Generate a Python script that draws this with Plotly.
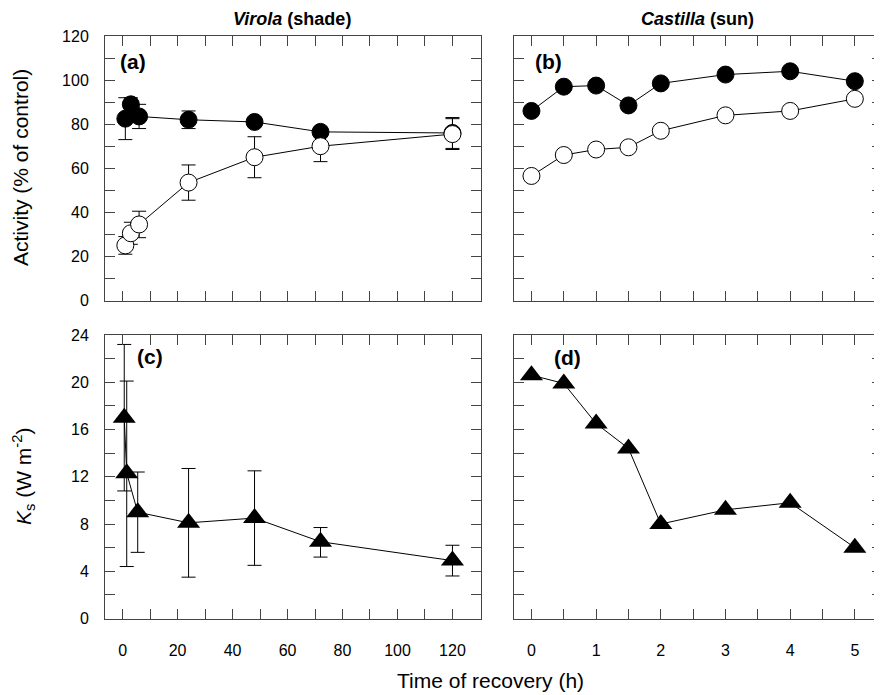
import plotly.graph_objects as go

# The page has an 8px body margin, so the figure is drawn 8px in from the top-left.
OFF = 8
W, H = 882 - OFF, 695 - OFF

# ---------------- data ----------------
# Panel (a) Virola (shade) - activity
a_x_filled = [1, 3, 6, 24, 48, 72, 120]
a_y_filled = [82.5, 89, 83.5, 82, 81, 76.5, 76]
a_err_filled = [9.5, 3, 5.5, 4, 2, 2, 7]
a_x_open = [1, 3, 6, 24, 48, 72, 120]
a_y_open = [25, 30.5, 34.5, 53.5, 65, 70, 75.5]
a_err_open = [4, 5, 6, 8, 9.3, 7, 7]

# Panel (b) Castilla (sun) - activity
b_x = [0, 0.5, 1, 1.5, 2, 3, 4, 5]
b_y_filled = [86, 97, 97.5, 88.5, 98.5, 102.5, 104, 99.5]
b_y_open = [56.5, 66, 68.5, 69.5, 77, 84, 86, 91.5]

# Panel (c) Virola (shade) - Ks
c_x = [0.6, 1.5, 5.5, 24, 48, 72, 120]
c_y = [17.0, 12.3, 9.0, 8.1, 8.5, 6.5, 4.9]
c_err_plus = [6.2, 7.8, 3.4, 4.6, 4.0, 1.2, 1.3]
c_err_minus = [6.2, 7.9, 3.4, 4.6, 4.0, 1.3, 1.3]

# Panel (d) Castilla (sun) - Ks
d_x = [0, 0.5, 1, 1.5, 2, 3, 4, 5]
d_y = [20.6, 19.9, 16.5, 14.4, 8.0, 9.2, 9.8, 6.0]

# tick values / labels
left_x_ticks = [0, 20, 40, 60, 80, 100, 120]
left_x_labels = ["0", "20", "40", "60", "80", "100", "120"]
left_x_minor = [10, 30, 50, 70, 90, 110]
right_x_ticks = [0, 1, 2, 3, 4, 5]
right_x_labels = ["0", "1", "2", "3", "4", "5"]
right_x_minor = [0.5, 1.5, 2.5, 3.5, 4.5]
top_y_ticks = [0, 20, 40, 60, 80, 100, 120]
top_y_labels = ["0", "20", "40", "60", "80", "100", "120"]
top_y_minor = [10, 30, 50, 70, 90, 110]
bot_y_ticks = [0, 4, 8, 12, 16, 20, 24]
bot_y_labels = ["0", "4", "8", "12", "16", "20", "24"]
bot_y_minor = [2, 6, 10, 14, 18, 22]

# ---------------- geometry (screen pixels -> paper) ----------------
def px(x):
    return (x - OFF) / W

def py(y):
    return 1 - (y - OFF) / H

LX = [px(105), px(480.5)]
RX = [px(514), 1.0]
TY = [py(300.5), py(36)]
BY = [py(618.5), py(335)]

FONT = "Liberation Sans Narrow, Arial Narrow, Liberation Sans, Arial, sans-serif"
LINE_C = "#444444"

fig = go.Figure()

circle_line = dict(color="black", width=1)
err_style = dict(color="black", thickness=1, width=7)

# (a) filled then open
fig.add_trace(go.Scatter(
    x=a_x_filled, y=a_y_filled, mode="lines+markers",
    line=dict(color="black", width=1),
    marker=dict(symbol="circle", size=17, color="black", line=circle_line),
    error_y=dict(type="data", array=a_err_filled, visible=True, **err_style),
    xaxis="x", yaxis="y", showlegend=False))
fig.add_trace(go.Scatter(
    x=a_x_open, y=a_y_open, mode="lines+markers",
    line=dict(color="black", width=1),
    marker=dict(symbol="circle", size=17, color="white", line=circle_line),
    error_y=dict(type="data", array=a_err_open, visible=True, **err_style),
    xaxis="x", yaxis="y", showlegend=False))

# (b)
fig.add_trace(go.Scatter(
    x=b_x, y=b_y_filled, mode="lines+markers",
    line=dict(color="black", width=1),
    marker=dict(symbol="circle", size=17, color="black", line=circle_line),
    xaxis="x2", yaxis="y2", showlegend=False))
fig.add_trace(go.Scatter(
    x=b_x, y=b_y_open, mode="lines+markers",
    line=dict(color="black", width=1),
    marker=dict(symbol="circle", size=17, color="white", line=circle_line),
    xaxis="x2", yaxis="y2", showlegend=False))

# (c)
fig.add_trace(go.Scatter(
    x=c_x, y=c_y, mode="lines+markers",
    line=dict(color="black", width=1),
    marker=dict(symbol="triangle-up", size=20, color="black", line=dict(width=0)),
    error_y=dict(type="data", symmetric=False, array=c_err_plus,
                 arrayminus=c_err_minus, visible=True, **err_style),
    xaxis="x3", yaxis="y3", showlegend=False))

# (d)
fig.add_trace(go.Scatter(
    x=d_x, y=d_y, mode="lines+markers",
    line=dict(color="black", width=1),
    marker=dict(symbol="triangle-up", size=20, color="black", line=dict(width=0)),
    xaxis="x4", yaxis="y4", showlegend=False))


def axis(domain, rng, tickvals, ticktext, minor_vals, anchor, show_labels, standoff):
    d = dict(
        domain=domain, range=rng, anchor=anchor,
        tickmode="array", tickvals=tickvals,
        showticklabels=show_labels,
        ticks="inside", ticklen=10, tickwidth=1, tickcolor=LINE_C,
        minor=dict(tickmode="array", tickvals=minor_vals, ticks="inside",
                   ticklen=10, tickwidth=1, tickcolor=LINE_C, showgrid=False),
        showline=True, linecolor=LINE_C, linewidth=1, mirror="allticks",
        showgrid=False, zeroline=False,
        tickfont=dict(family=FONT, size=16, color="black"),
        ticklabelstandoff=standoff,
    )
    if show_labels:
        d["ticktext"] = ticktext
    return d

LXR = [-6.4, 130.2]
RXR = [-0.27, 5.42]
TYR = [0, 120]
BYR = [0, 24]

XS, YS = 17, 12
fig.update_layout(
    width=W, height=H,
    margin=dict(l=0, r=0, t=0, b=0, pad=0, autoexpand=False),
    paper_bgcolor="white", plot_bgcolor="white",
    xaxis=axis(LX, LXR, left_x_ticks, left_x_labels, left_x_minor, "y", False, XS),
    yaxis=axis(TY, TYR, top_y_ticks, top_y_labels, top_y_minor, "x", True, YS),
    xaxis2=axis(RX, RXR, right_x_ticks, right_x_labels, right_x_minor, "y2", False, XS),
    yaxis2=axis(TY, TYR, top_y_ticks, top_y_labels, top_y_minor, "x2", False, YS),
    xaxis3=axis(LX, LXR, left_x_ticks, left_x_labels, left_x_minor, "y3", True, XS),
    yaxis3=axis(BY, BYR, bot_y_ticks, bot_y_labels, bot_y_minor, "x3", True, YS),
    xaxis4=axis(RX, RXR, right_x_ticks, right_x_labels, right_x_minor, "y4", True, XS),
    yaxis4=axis(BY, BYR, bot_y_ticks, bot_y_labels, bot_y_minor, "x4", False, YS),
)

title_font = dict(family=FONT, size=18, color="black")
ann_font = dict(family=FONT, size=21, color="black")
label_font = dict(family="Liberation Sans, Arial, sans-serif", size=21, color="black")
annotations = [
    dict(text="<b><i>Virola</i> (shade)</b>", x=px(292), y=py(19), font=title_font),
    dict(text="<b><i>Castilla</i> (sun)</b>", x=px(697), y=py(19), font=title_font),
    dict(text="Activity (% of control)", x=px(20), y=py(168), textangle=-90, font=ann_font),
    dict(text="<i>K</i><sub>s</sub> (W m<sup>-2</sup>)", x=px(23), y=py(477), textangle=-90, font=ann_font),
    dict(text="Time of recovery (h)", x=px(490), y=py(680), font=ann_font),
    dict(text="<b>(a)</b>", x=px(133), y=py(62), font=label_font),
    dict(text="<b>(b)</b>", x=px(548), y=py(62), font=label_font),
    dict(text="<b>(c)</b>", x=px(150), y=py(356), font=label_font),
    dict(text="<b>(d)</b>", x=px(567), y=py(357), font=label_font),
]
for a in annotations:
    a.update(xref="paper", yref="paper", showarrow=False, xanchor="center", yanchor="middle")
fig.update_layout(annotations=annotations)

fig.write_html("out.html")
